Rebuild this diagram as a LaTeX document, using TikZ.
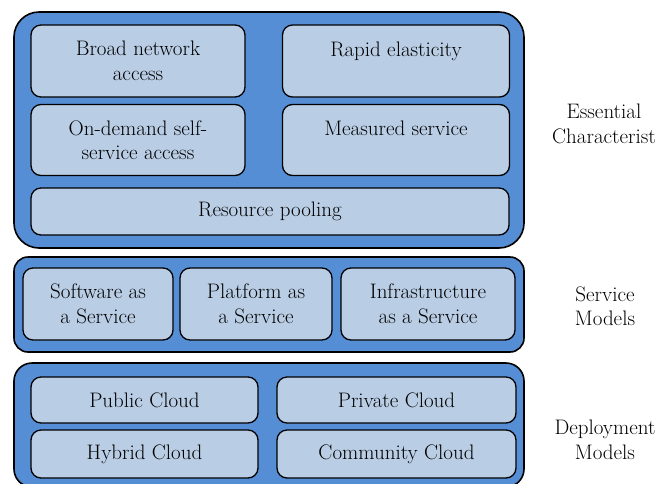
\documentclass[tikz,border=0pt]{standalone}
\definecolor{layerblue}{HTML}{558ED5}
\definecolor{cellblue}{HTML}{B9CDE5}
\begin{document}
\begin{tikzpicture}[x=1pt,y=-1pt,
  font=\rmfamily\fontsize{21}{24.5}\selectfont,
  layer/.style={draw=black, line width=1.6pt, fill=layerblue, inner sep=0pt, outer sep=0pt},
  cell/.style={draw=black, line width=1.3pt, fill=cellblue, rounded corners=10pt,
    inner sep=0pt, outer sep=0pt, align=center},
  tag/.style={align=center, inner sep=0pt}]
\useasboundingbox (0,0) rectangle (669,483);

% Essential characteristics layer
\node[layer, rounded corners=25pt, minimum width=510pt, minimum height=236pt] (ess) at (269,130) {};
\node[cell, minimum width=214pt, minimum height=72pt] (broad) at (138,61) {Broad network\\access};
\node[cell, minimum width=227pt, minimum height=72pt] (rapid) at (396,61) {Rapid elasticity\\\mbox{}};
\node[cell, minimum width=214pt, minimum height=71pt] (ondemand) at (138,140) {On-demand self-\\service access};
\node[cell, minimum width=227pt, minimum height=71pt] (measured) at (396,140) {Measured service\\\mbox{}};
\node[cell, minimum width=478pt, minimum height=47pt] (pool) at (270,211.5) {Resource pooling};
\node[tag] (esslabel) at (604,124) {Essential\\Characterist};

% Service models layer
\node[layer, rounded corners=14pt, minimum width=510pt, minimum height=95pt] (svc) at (269,304.5) {};
\node[cell, minimum width=150pt, minimum height=72pt] (saas) at (98,304) {Software as\\a Service};
\node[cell, minimum width=152pt, minimum height=72pt] (paas) at (256,304) {Platform as\\a Service};
\node[cell, minimum width=174pt, minimum height=72pt] (iaas) at (428,304) {Infrastructure\\as a Service};
\node[tag] (svclabel) at (605,306) {Service\\Models};

% Deployment models layer
\node[layer, rounded corners=18pt, minimum width=510pt, minimum height=124pt] (dep) at (269,425) {};
\node[cell, minimum width=227pt, minimum height=46pt] (public) at (144.5,400) {Public Cloud};
\node[cell, minimum width=239pt, minimum height=46pt] (private) at (396.5,400) {Private Cloud};
\node[cell, minimum width=227pt, minimum height=48pt] (hybrid) at (144.5,454) {Hybrid Cloud};
\node[cell, minimum width=239pt, minimum height=48pt] (community) at (396.5,454) {Community Cloud};
\node[tag] (deplabel) at (605,440) {Deployment\\Models};
\end{tikzpicture}
\end{document}
